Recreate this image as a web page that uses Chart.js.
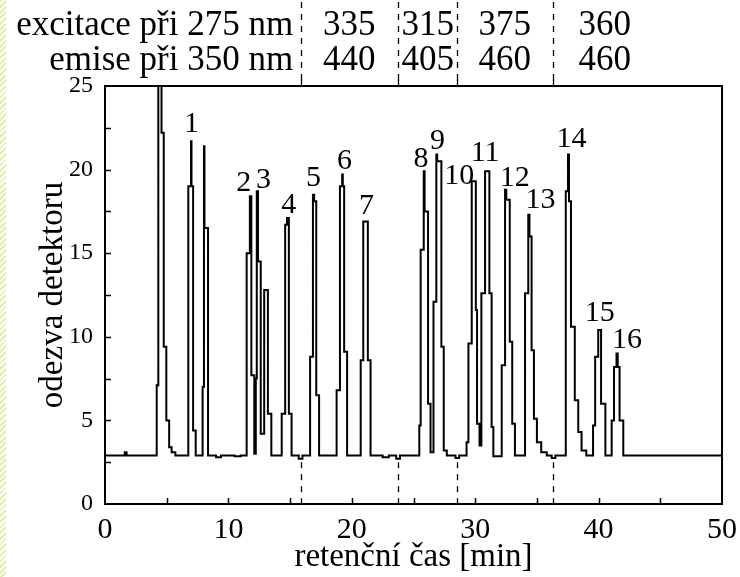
<!DOCTYPE html>
<html>
<head>
<meta charset="utf-8">
<script src="https://cdn.jsdelivr.net/npm/chart.js@4/dist/chart.umd.min.js"></script>
<style>
html,body{margin:0;padding:0;background:#fff;}
#wrap{position:relative;width:740px;height:577px;}
#stripe{position:absolute;left:0;top:0;width:6px;height:577px;
background:repeating-linear-gradient(135deg,#dff3a8 0px,#dff3a8 2px,#ffffff 2px,#ffffff 4px);}
canvas{position:absolute;left:0;top:0;}
</style>
</head>
<body>
<div id="wrap"><div id="stripe"></div><canvas id="c" width="740" height="577"></canvas></div>
<script>
// retention time [min] at which the detector trace steps to the next response value
const times = [
 0,1.5,1.6,1.75,
 4.19,4.32,4.58,4.76,4.97,5.2,5.4,5.7,
 6.75,6.97,7.01,7.14,7.35,
 7.91,8.02,8.06,8.35,9.0,9.4,10.5,11.0,
 11.48,11.74,11.86,12.1,12.22,12.3,12.4,12.62,12.9,13.2,13.48,
 14.32,14.6,14.75,14.9,15.12,15.7,16.0,
 16.62,16.85,16.95,17.12,17.35,
 18.77,19.04,19.22,19.27,19.38,19.62,
 20.72,20.93,21.3,21.52,22.5,23.0,23.6,23.9,
 25.47,25.58,25.83,25.9,26.18,26.38,
 26.62,26.85,26.92,27.26,27.45,27.7,28.4,28.7,
 29.3,29.45,29.72,30.05,30.15,30.35,
 30.5,30.8,31.15,31.33,31.47,
 32.15,32.42,32.52,32.8,33.0,33.22,
 34.04,34.3,34.4,34.57,34.76,35.0,35.35,35.8,36.2,36.5,
 37.34,37.52,37.6,37.76,38.07,38.35,38.62,39.0,
 39.55,39.72,39.97,40.2,40.55,
 41.06,41.25,41.45,41.55,41.7,42.0,50
];
// detector response
const response = [
 2.9,2.9,3.1,2.9,
 7.1,25.6,22.2,9.4,5.0,3.4,3.1,2.9,
 19.0,21.7,19.0,4.4,2.9,
 7.0,21.4,16.5,2.9,2.8,2.9,2.85,2.9,
 15.0,18.4,7.7,3.0,7.5,18.7,14.5,4.2,12.8,5.4,2.9,
 5.4,16.7,17.1,5.4,2.9,2.7,2.9,
 8.8,18.5,18.1,6.5,2.9,
 6.8,19.0,19.7,19.0,9.1,2.9,
 8.6,16.9,8.6,2.9,2.8,2.9,2.7,2.9,
 4.7,15.2,19.9,17.5,6.0,3.1,
 12.1,20.9,20.5,9.4,3.2,2.9,2.75,2.9,
 3.7,9.6,19.3,11.6,4.8,3.5,
 12.6,19.9,12.6,4.6,2.85,
 8.3,18.8,18.2,9.7,4.8,2.9,
 12.6,17.3,16.0,9.2,5.1,3.7,3.1,2.9,2.75,2.9,
 18.7,20.9,18.1,10.6,6.2,4.3,3.2,2.9,
 4.7,8.8,10.4,6.0,2.9,
 5.0,8.2,9.0,8.2,5.0,2.9,2.9
];
// peak numbers and where their labels sit (time, response)
const peakNames = ["1","2","3","4","5","6","7","8","9","10","11","12","13","14","15","16"];
const peakLabelT = [7.0,11.25,12.85,14.9,16.9,19.4,21.2,25.6,26.95,28.7,30.8,33.2,35.3,37.8,40.1,42.3];
const peakLabelV = [22.7,19.2,19.4,17.9,19.5,20.5,17.8,20.6,21.7,19.6,21.0,19.5,18.2,21.8,11.4,9.8];
// wavelength program
const switchTimes = [15.9,23.75,28.55,36.3];
const excitation = ["excitace při 275 nm","335","315","375","360"];
const emission = ["emise při 350 nm","440","405","460","460"];
const excitationCenters = [null,19.8,26.15,32.4,40.5];

const xTicks = [0,10,20,30,40,50];
const yTicks = [0,5,10,15,20,25];

const points = times.map((t,i)=>({x:t,y:response[i]}));
const serif = "'Liberation Serif','Times New Roman',serif";

const overlay = {
  id:'overlay',
  afterDraw(chart){
    const ctx = chart.ctx, a = chart.chartArea;
    const xs = chart.scales.x, ys = chart.scales.y;
    ctx.save();
    ctx.strokeStyle='#000'; ctx.lineWidth=2;
    ctx.strokeRect(a.left, a.top, a.right-a.left, a.bottom-a.top);
    ctx.lineWidth=1.5;
    for(let v=2.5; v<25; v+=2.5){
      const y=Math.round(ys.getPixelForValue(v))+0.5;
      ctx.beginPath(); ctx.moveTo(a.left,y); ctx.lineTo(a.left+6,y); ctx.stroke();
    }
    for(let t=5; t<50; t+=5){
      const x=Math.round(xs.getPixelForValue(t))+0.5;
      ctx.beginPath(); ctx.moveTo(x,a.bottom); ctx.lineTo(x,a.bottom-6); ctx.stroke();
    }
    switchTimes.forEach(t=>{
      const x=Math.round(xs.getPixelForValue(t))+0.5;
      ctx.lineWidth=1.3;
      ctx.setLineDash([6,6]);
      ctx.beginPath(); ctx.moveTo(x,2); ctx.lineTo(x,a.top-6); ctx.stroke();
      ctx.beginPath(); ctx.moveTo(x,ys.getPixelForValue(2.5)); ctx.lineTo(x,a.bottom); ctx.stroke();
      ctx.setLineDash([]);
      ctx.beginPath(); ctx.moveTo(x,a.top-6); ctx.lineTo(x,a.top); ctx.stroke();
    });
    ctx.fillStyle='#000';
    ctx.font = "35px "+serif;
    ctx.textBaseline='alphabetic';
    ctx.textAlign='right';
    const xL = xs.getPixelForValue(switchTimes[0]) - 8;
    ctx.fillText(excitation[0], xL, 35);
    ctx.fillText(emission[0], xL, 70);
    ctx.textAlign='center';
    for(let i=1;i<excitation.length;i++){
      const x = xs.getPixelForValue(excitationCenters[i]);
      ctx.fillText(excitation[i], x, 35);
      ctx.fillText(emission[i], x, 70);
    }
    ctx.font = "30px "+serif;
    ctx.textBaseline='middle';
    peakNames.forEach((n,i)=>{
      ctx.fillText(n, xs.getPixelForValue(peakLabelT[i]), ys.getPixelForValue(peakLabelV[i]));
    });
    ctx.restore();
  }
};

new Chart(document.getElementById('c'),{
  type:'line',
  data:{datasets:[{data:points,borderColor:'#000',borderWidth:2,pointRadius:0,stepped:'before',fill:false}]},
  options:{
    responsive:false,animation:false,
    layout:{padding:{top:86,right:18,left:0,bottom:0}},
    plugins:{legend:{display:false},tooltip:{enabled:false}},
    scales:{
      x:{type:'linear',min:0,max:50,
        afterFit(s){s.height=73;},
        afterBuildTicks(s){s.ticks=xTicks.map(v=>({value:v}));},
        grid:{display:false},border:{display:false},
        ticks:{color:'#000',font:{family:serif,size:30},padding:0,maxRotation:0,autoSkip:false},
        title:{display:true,text:'retenční čas [min]',color:'#000',font:{family:serif,size:33},padding:{top:-6,bottom:0}}
      },
      y:{type:'linear',min:0,max:25,
        afterFit(s){s.width=105;},
        afterBuildTicks(s){s.ticks=yTicks.map(v=>({value:v}));},
        grid:{display:false},border:{display:false},
        ticks:{color:'#000',font:{family:serif,size:24},padding:4},
        title:{display:true,text:'odezva detektoru',color:'#000',font:{family:serif,size:33},padding:{top:34,bottom:0}}
      }
    }
  },
  plugins:[overlay]
});
</script>
</body>
</html>
